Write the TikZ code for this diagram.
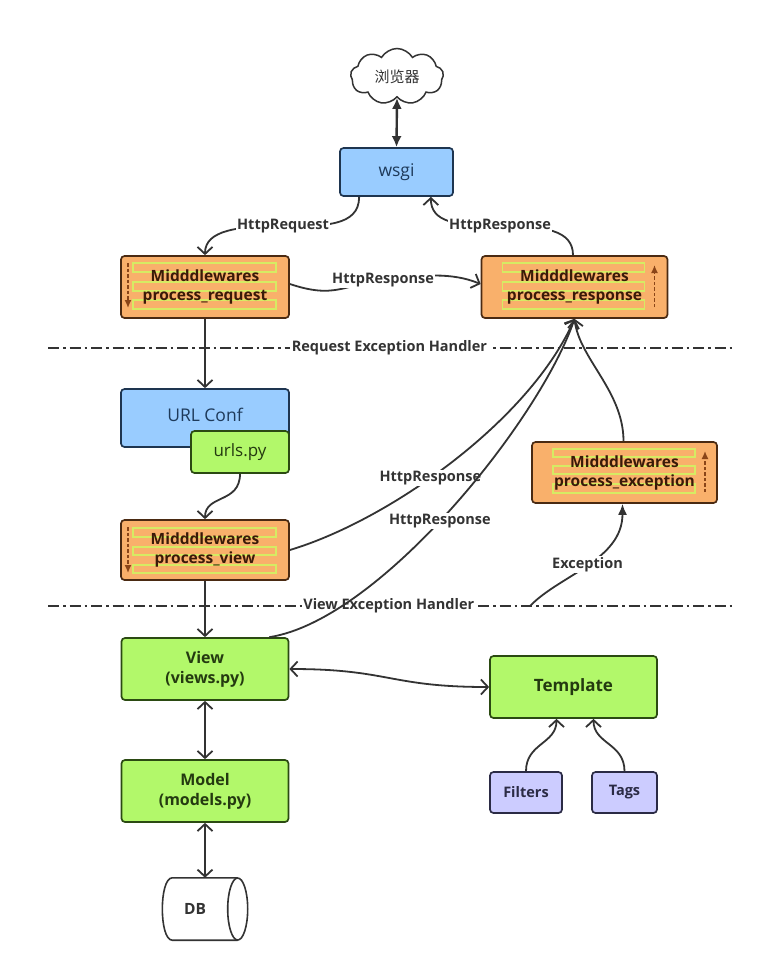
\documentclass[tikz,border=0pt]{standalone}
\usepackage{fontspec}
\setmainfont{Open Sans}
\newfontfamily\cjk{Noto Sans CJK SC}
\usetikzlibrary{arrows.meta,shapes.symbols,shapes.geometric,calc}
\definecolor{linec}{HTML}{333333}
\definecolor{ofill}{HTML}{F9B06B}
\definecolor{oborder}{HTML}{4A2A12}
\definecolor{otext}{HTML}{3A1A08}
\definecolor{bfill}{HTML}{99CCFF}
\definecolor{bborder}{HTML}{1E3550}
\definecolor{btext}{HTML}{1E3A5A}
\definecolor{gfill}{HTML}{B2F86A}
\definecolor{gborder}{HTML}{2B4A12}
\definecolor{gtext}{HTML}{243A10}
\definecolor{lfill}{HTML}{CCCCFF}
\definecolor{lborder}{HTML}{2B2B45}
\definecolor{ltext}{HTML}{2B2B45}
\definecolor{stripec}{HTML}{D6EB63}
\definecolor{dasharr}{HTML}{8A4518}
\begin{document}
\begin{tikzpicture}[x=1pt,y=-1pt,
  box/.style={rounded corners=3.5pt, line width=1.7pt, align=center, inner sep=0pt},
  mw/.style={box, draw=oborder, fill=ofill, text=otext,
    font=\fontsize{15.5}{19}\selectfont\bfseries},
  bbox/.style={box, draw=bborder, fill=bfill, text=btext, font=\fontsize{17.5}{20}\selectfont},
  gbox/.style={box, draw=gborder, fill=gfill, text=gtext, font=\fontsize{16}{20}\selectfont\bfseries},
  lbox/.style={box, draw=lborder, fill=lfill, text=ltext, font=\fontsize{14.5}{18}\selectfont\bfseries},
  stripedn/.style n args={4}{path picture={
    \foreach \a/\b in {#3}{
      \draw[stripec, line width=1.4pt, sharp corners]
        ([xshift=#1,yshift=-\a]path picture bounding box.north west) rectangle
        ([xshift=#2,yshift=-\b]path picture bounding box.north west);}
    #4}},
  mwdown/.style 2 args={stripedn={12}{155}{#1}{
    \draw[dasharr, line width=1.5pt, dash pattern=on 3.5pt off 2pt, sharp corners, -{Latex[length=8pt,width=7pt]}]
      ([xshift=7,yshift=-7]path picture bounding box.north west) --
      ([xshift=7,yshift=-#2]path picture bounding box.north west);}},
  mwup/.style 2 args={stripedn={21}{163}{#1}{
    \draw[dasharr, line width=1.5pt, dash pattern=on 3.5pt off 2pt, sharp corners, -{Latex[length=8pt,width=7pt]}]
      ([xshift=173,yshift=-#2]path picture bounding box.north west) --
      ([xshift=173,yshift=-9]path picture bounding box.north west);}},
  lbl/.style={fill=white, inner sep=1.5pt, text=linec, font=\fontsize{14.5}{16}\selectfont\bfseries},
  arr/.style={draw=linec, line width=1.8pt, -{Straight Barb[length=7pt,width=15pt]}},
  darr/.style={draw=linec, line width=1.8pt, {Straight Barb[length=7pt,width=15pt]}-{Straight Barb[length=7pt,width=15pt]}},
  farr/.style={draw=linec, line width=1.8pt, -{Latex[length=11pt,width=9pt]}},
  fdarr/.style={draw=linec, line width=2.4pt, {Latex[length=11pt,width=10pt]}-{Latex[length=11pt,width=10pt]}},
  dashdot/.style={draw=linec, line width=1.6pt, dash pattern=on 11pt off 4pt on 2.5pt off 4pt},
  cyl/.style={draw=linec, line width=1.6pt}
]
\useasboundingbox (0,0) rectangle (766,975);
\fill[white] (0,0) rectangle (766,975);

% dash-dot handler lines
\coordinate (r1) at (48,348);
\coordinate (r2) at (735,348);
\coordinate (v1) at (48,606);
\coordinate (v2) at (735,606);
\draw[dashdot] (r1) -- node[lbl, pos=0.497] (rlab) {Request Exception Handler} (r2);
\draw[dashdot] (v1) -- node[lbl, pos=0.496] (vlab) {View Exception Handler} (v2);

% nodes
\node[cloud, cloud puffs=9, cloud puff arc=120, cloud ignores aspect, draw=linec, fill=white, line width=1.5pt,
  minimum width=93, minimum height=56, inner sep=0pt, text=linec, font=\fontsize{15}{16}\selectfont\cjk]
  (browser) at (397,76.5) {浏览器};
\node[bbox, minimum width=113, minimum height=48] (wsgi) at (396.5,172) {wsgi};
\node[mw, minimum width=168, minimum height=62, mwdown={7/16,26/35,44/53}{52}] (preq) at (205,287)
  {Midddlewares\\process\_request};
\node[mw, minimum width=186, minimum height=62, mwup={7/16,26/35,44/53}{51}] (presp) at (574.5,287)
  {Midddlewares\\process\_response};
\node[bbox, minimum width=168, minimum height=58] (urlconf) at (205,418) {};
\node[text=btext, font=\fontsize{17.5}{20}\selectfont, inner sep=0pt] (urlconftext) at (205,415) {URL Conf};
\node[gbox, font=\fontsize{17}{20}\selectfont, minimum width=98, minimum height=42] (urls) at (240,452) {urls.py};
\node[mw, minimum width=168, minimum height=60, mwdown={8/17,27/35,45/53}{53}] (pview) at (205,550)
  {Midddlewares\\process\_view};
\node[mw, minimum width=185, minimum height=61, mwup={7/15,24/32,42/51}{50}] (pexc) at (624.5,472.5)
  {Midddlewares\\process\_exception};
\node[gbox, minimum width=167, minimum height=62] (view) at (205,669) {View\\(views.py)};
\node[gbox, minimum width=167, minimum height=62] (model) at (205,791) {Model\\(models.py)};

% DB cylinder (horizontal)
\node[minimum width=85, minimum height=62, inner sep=0pt] (db) at (205,909) {};
\fill[white] ([xshift=10]db.north west) -- ([xshift=-10]db.north east) -- ([xshift=-10]db.south east) -- ([xshift=10]db.south west) -- cycle;
\draw[cyl] ([xshift=-10]db.north east) -- ([xshift=10]db.north west)
  .. controls +(-13.3,0) and +(-13.3,0) .. ([xshift=10]db.south west) -- ([xshift=-10]db.south east);
\draw[cyl, fill=white] ([xshift=-10]db.east) ellipse [x radius=10, y radius=31];
\node[text=linec, font=\fontsize{15.5}{18}\selectfont\bfseries, inner sep=0pt] (dbtext) at ([xshift=-10]db.center) {DB};

\node[gbox, font=\fontsize{17}{20}\selectfont\bfseries, minimum width=167, minimum height=62] (template) at (573.5,687) {Template};
\node[lbox, minimum width=72, minimum height=41] (filters) at (526,792.5) {Filters};
\node[lbox, minimum width=65, minimum height=41] (tags) at (624.5,792.5) {Tags};

% connectors
\draw[fdarr] (browser.south) -- (wsgi.north);
\draw[arr] ([xshift=20]wsgi.south west) .. controls +(0,30) and +(40,0) .. (283,226)
  node[lbl] (l1) {HttpRequest} .. controls +(-45,0) and +(0,-25) .. (preq.north);
\draw[arr] ([xshift=-1.5]presp.north) .. controls +(0,-25) and +(45,0) .. (500,226)
  node[lbl] (l2) {HttpResponse} .. controls +(-45,0) and +(0,25) .. ([xshift=-23]wsgi.south east);
\draw[arr] ([yshift=3]preq.east) .. controls +(45,15) and +(-40,5) .. (383,280)
  node[lbl] (l3) {HttpResponse} .. controls +(40,-5) and +(-30,-12) .. ([yshift=3]presp.west);
\draw[arr] (preq.south) -- (urlconf.north);
\draw[arr] (urls.south) .. controls +(0,30) and +(0,-25) .. (pview.north);
\draw[arr] (pview.south) -- (view.north);
\draw[arr] (pview.east) .. controls (390,520) and (530,420) .. node[lbl, pos=0.43] (l4) {HttpResponse} (presp.south);
\draw[arr] ([xshift=-20]view.north east) .. controls (380,620) and (540,420) .. node[lbl, pos=0.47] (l5) {HttpResponse} (presp.south);
\draw[arr] ([xshift=-1]pexc.north) .. controls +(0,-50) and +(5,40) .. (presp.south);
\coordinate (exstart) at (530,606);
\draw[farr] (exstart) .. controls (560,575) and (622.5,560) .. node[lbl, pos=0.5] (l6) {Exception} ([xshift=-2]pexc.south);
\draw[darr] (view.south) -- (model.north);
\draw[darr] (model.south) -- (db.north);
\draw[darr] (view.east) .. controls +(100,0) and +(-100,0) .. (template.west);
\draw[arr] (filters.north) .. controls +(0,-28) and +(0,25) .. ([xshift=-17]template.south);
\draw[arr] (tags.north) .. controls +(0,-28) and +(0,25) .. ([xshift=20]template.south);
\end{tikzpicture}
\end{document}
